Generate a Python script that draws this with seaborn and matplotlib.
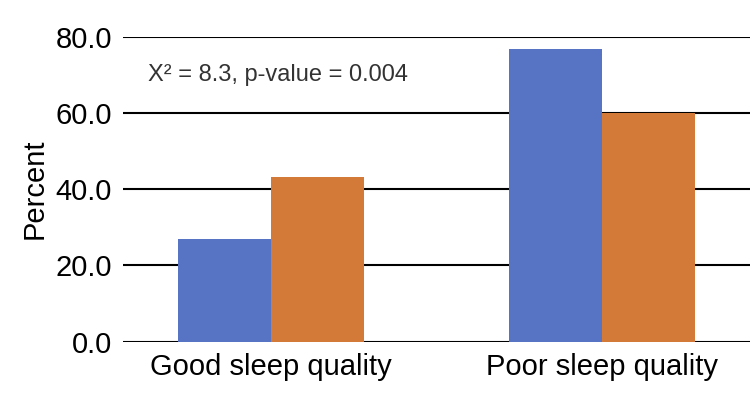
import matplotlib
matplotlib.use("Agg")
import matplotlib.pyplot as plt
import seaborn as sns
import pandas as pd

categories = ["Good sleep quality", "Poor sleep quality"]
group_a = [26.9, 76.7]
group_b = [43.1, 59.9]
yticks = [0, 20, 40, 60, 80]
annotation = "Χ² = 8.3, p-value = 0.004"

df = pd.DataFrame({
    "category": categories * 2,
    "value": group_a + group_b,
    "group": ["A"] * len(categories) + ["B"] * len(categories),
})

sns.set_theme(style="white")
plt.rcParams["font.family"] = ["Liberation Sans", "DejaVu Sans"]

fig = plt.figure(figsize=(7.5, 4), dpi=100)
ax = fig.add_axes([0.164, 0.146, 0.836, 0.762])

for y in yticks:
    ax.axhline(y, color="black", lw=1.5, zorder=0)

sns.barplot(data=df, x="category", y="value", hue="group",
            palette=["#5673C4", "#D37A38"], width=0.562, ax=ax,
            legend=False, saturation=1, zorder=2, linewidth=0)

ax.set_xlim(-0.447, 1.447)
ax.set_ylim(0, 80)
ax.set_yticks(yticks)
ax.set_yticklabels([f"{v:.1f}" for v in yticks], fontsize=21, color="black")
ax.tick_params(axis="x", labelsize=21, pad=8, length=0, labelcolor="black")
ax.tick_params(axis="y", length=0, pad=8)
ax.set_xlabel("")
ax.set_ylabel("Percent", fontsize=21, labelpad=5, color="black")
for s in ax.spines.values():
    s.set_visible(False)

ax.text(-0.371, 70, annotation, fontsize=17, color="#333333", va="center", ha="left")

fig.savefig("out.png", dpi=100)
